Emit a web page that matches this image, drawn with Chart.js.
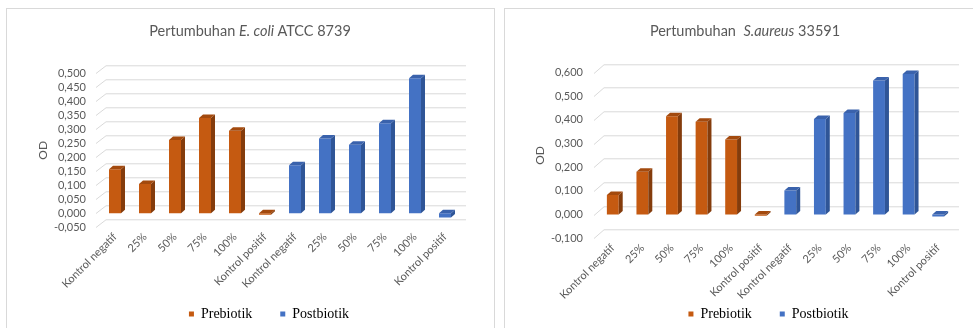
<!DOCTYPE html>
<html>
<head>
<meta charset="utf-8">
<script src="https://cdn.jsdelivr.net/npm/chart.js@4.4.1/dist/chart.umd.min.js"></script>
<style>
  html, body { margin: 0; padding: 0; background: #fff; width: 973px; height: 328px; overflow: hidden; position: relative; font-family: Lato, sans-serif; }
  .panel { position: absolute; top: 8px; border: 1px solid #D9D9D9; background: #fff; overflow: hidden; }
  #p1 { left: 6px; width: 487px; height: 340px; }
  #p2 { left: 504px; width: 480px; height: 340px; }
  .title { position: absolute; top: 22px; width: 500px; text-align: center; font-size: 14.5px; line-height: 17px; color: #595959; white-space: pre; }
  canvas { position: absolute; left: 0; top: 0; }
</style>
</head>
<body>
<div class="panel" id="p1"><canvas id="ecoli" width="487" height="350"></canvas></div>
<div class="panel" id="p2"><canvas id="aureus" width="478" height="350"></canvas></div>
<div class="title" style="left:0px">Pertumbuhan <i>E. coli</i> ATCC 8739</div>
<div class="title" style="left:495px">Pertumbuhan  <i>S.aureus</i> 33591</div>

<script>
// categories (same for both groups)
const groupLabels = ['Kontrol negatif', '25%', '50%', '75%', '100%', 'Kontrol positif'];
const seriesNames = ['Prebiotik', 'Postbiotik'];

// E. coli ATCC 8739 (OD)
const ecoliPrebiotik = [0.157, 0.105, 0.262, 0.340, 0.295, -0.005];
const ecoliPostbiotik = [0.172, 0.267, 0.245, 0.322, 0.482, -0.015];

// S. aureus 33591 (OD)
const aureusPrebiotik = [0.083, 0.181, 0.415, 0.392, 0.317, -0.005];
const aureusPostbiotik = [0.102, 0.404, 0.429, 0.566, 0.594, -0.008];

const labels = groupLabels.concat(groupLabels);
const empty = groupLabels.map(() => null);

const palette = {
  Prebiotik: { front: '#C55A11', side: '#843C0C', top: '#A34A0E' },
  Postbiotik: { front: '#4472C4', side: '#2F5597', top: '#3A62AC' },
};

Chart.defaults.font.family = 'Lato';
Chart.defaults.color = '#595959';

// back wall gridlines + side/top faces of the columns, legend placement
const wall3d = {
  id: 'wall3d',
  afterLayout(chart, args, opts) {
    const lg = chart.legend;
    if (!lg) return;
    const h = lg.height;
    lg.left += opts.legendShift;
    lg.right += opts.legendShift;
    lg.top = opts.legendTop;
    lg.bottom = opts.legendTop + h;
  },
  beforeDatasetsDraw(chart, args, opts) {
    const { ctx, chartArea, scales: { y } } = chart;
    ctx.save();
    ctx.strokeStyle = '#D9D9D9';
    ctx.lineWidth = 1;
    y.ticks.forEach(t => {
      const yy = Math.round(y.getPixelForValue(t.value)) + 0.5;
      ctx.beginPath();
      ctx.moveTo(chartArea.left - 4, yy);
      ctx.lineTo(chartArea.left + 6, yy - opts.depth);
      ctx.lineTo(chartArea.right + 6, yy - opts.depth);
      ctx.stroke();
    });
    ctx.restore();
  },
  afterDatasetsDraw(chart) {
    const ctx = chart.ctx;
    const dx = 4, dy = 3.5;
    chart.data.datasets.forEach((ds, i) => {
      const meta = chart.getDatasetMeta(i);
      const col = palette[ds.label];
      meta.data.forEach((bar, j) => {
        if (ds.data[j] == null) return;
        const { x, y, base, width } = bar.getProps(['x', 'y', 'base', 'width'], true);
        const l = x - width / 2, r = x + width / 2;
        const t = Math.min(y, base), b = Math.max(y, base);
        ctx.save();
        ctx.fillStyle = col.side;
        ctx.beginPath();
        ctx.moveTo(r, t); ctx.lineTo(r + dx, t - dy); ctx.lineTo(r + dx, b - dy); ctx.lineTo(r, b);
        ctx.closePath(); ctx.fill();
        ctx.fillStyle = col.top;
        ctx.beginPath();
        ctx.moveTo(l, t); ctx.lineTo(l + dx, t - dy); ctx.lineTo(r + dx, t - dy); ctx.lineTo(r, t);
        ctx.closePath(); ctx.fill();
        ctx.restore();
      });
    });
  }
};

function fmt(v) {
  if (Math.abs(v) < 1e-9) v = 0;
  return v.toFixed(3).replace('.', ',');
}

function makeChart(id, pre, post, g) {
  new Chart(document.getElementById(id), {
    type: 'bar',
    data: {
      labels: labels,
      datasets: [
        { label: seriesNames[0], data: pre.concat(empty), backgroundColor: palette.Prebiotik.front },
        { label: seriesNames[1], data: empty.concat(post), backgroundColor: palette.Postbiotik.front },
      ],
    },
    plugins: [wall3d],
    options: {
      responsive: false,
      animation: false,
      skipNull: true,
      barPercentage: 0.4,
      categoryPercentage: 1,
      layout: { padding: g.padding },
      plugins: {
        wall3d: { depth: g.depth, legendShift: g.legendShift, legendTop: 270 },
        tooltip: { enabled: false },
        legend: {
          position: 'bottom',
          labels: {
            boxWidth: 5,
            boxHeight: 5,
            padding: 28,
            color: '#000',
            font: { family: "'Liberation Serif', 'Times New Roman', serif", size: 14 },
          },
        },
      },
      scales: {
        x: {
          grid: { display: false, drawTicks: false },
          border: { display: false },
          ticks: { autoSkip: false, minRotation: 45, maxRotation: 45, padding: 3, font: { size: 11 } },
          afterFit: s => { s.height = g.xHeight; },
        },
        y: {
          min: g.min,
          max: g.max,
          grid: { display: false, drawTicks: false },
          border: { display: false },
          ticks: {
            stepSize: g.step, autoSkip: false, maxTicksLimit: 20,
            padding: g.tickPad, font: { size: 11 }, callback: v => fmt(v),
          },
          title: { display: true, text: 'OD', font: { size: 12 }, padding: { top: g.titlePad, bottom: 0 } },
          afterFit: s => { s.width = g.yWidth; },
        },
      },
    },
  });
}

makeChart('ecoli', ecoliPrebiotik, ecoliPostbiotik, {
  min: -0.05, max: 0.5, step: 0.05,
  padding: { left: 0, right: 34, top: 64.3, bottom: 0 },
  yWidth: 93, xHeight: 79.7, tickPad: 14, titlePad: 28.8, depth: 7.7, legendShift: 35.5,
});

makeChart('aureus', aureusPrebiotik, aureusPostbiotik, {
  min: -0.1, max: 0.6, step: 0.1,
  padding: { left: 0, right: 30, top: 63.5, bottom: 0 },
  yWidth: 93, xHeight: 68.7, tickPad: 15, titlePad: 27.8, depth: 8.7, legendShift: 39.5,
});
</script>
</body>
</html>
